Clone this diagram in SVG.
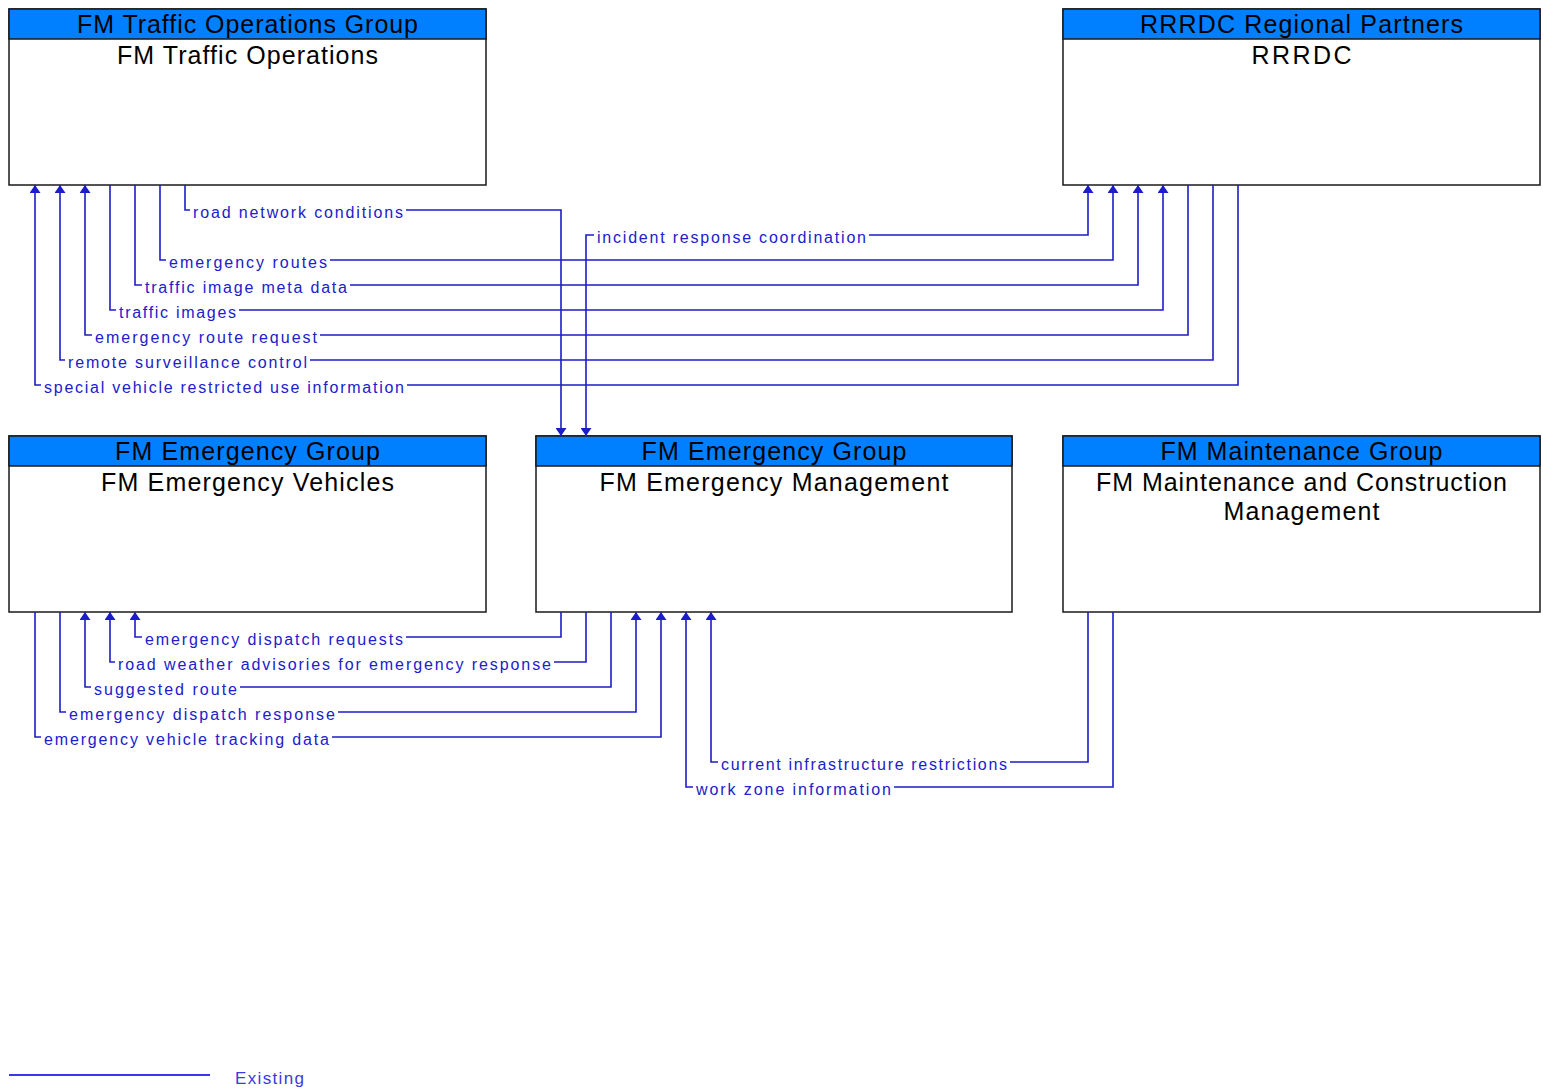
<svg xmlns="http://www.w3.org/2000/svg" width="1543" height="1089" viewBox="0 0 1543 1089">
<style>
.box{fill:#ffffff;stroke:#1a1a1a;stroke-width:1.5}
.hdr{fill:#0080ff;stroke:#1a1a1a;stroke-width:1.5}
.t{font-family:"Liberation Sans",Arial,sans-serif;font-size:25px;fill:#000000;text-anchor:middle}
.c{fill:none;stroke:#1c1cc8;stroke-width:1.6}
.l{font-family:"Liberation Sans",Arial,sans-serif;font-size:16px;fill:#2020cc}
</style>
<defs>
<marker id="a" viewBox="0 0 8 11" refX="8" refY="5.5" markerWidth="8" markerHeight="11" orient="auto-start-reverse" markerUnits="userSpaceOnUse">
<path d="M0,0 L8,5.5 L0,11 z" fill="#1c1cc8"/>
</marker>
</defs>
<rect width="1543" height="1089" fill="#ffffff"/>

<g id="node-fm-traffic-operations">
<rect class="box" x="9" y="9" width="477" height="176"/>
<rect class="hdr" x="9" y="9" width="477" height="30"/>
<text class="t" x="247.5" y="33" textLength="341" lengthAdjust="spacing">FM Traffic Operations Group</text>
<text class="t" x="247.5" y="64" textLength="261" lengthAdjust="spacing">FM Traffic Operations</text>
</g>

<g id="node-rrrdc">
<rect class="box" x="1063" y="9" width="477" height="176"/>
<rect class="hdr" x="1063" y="9" width="477" height="30"/>
<text class="t" x="1301.5" y="33" textLength="323" lengthAdjust="spacing">RRRDC Regional Partners</text>
<text class="t" x="1301.5" y="64" textLength="100" lengthAdjust="spacing">RRRDC</text>
</g>

<g id="node-fm-emergency-vehicles">
<rect class="box" x="9" y="436" width="477" height="176"/>
<rect class="hdr" x="9" y="436" width="477" height="30"/>
<text class="t" x="247.5" y="460" textLength="265" lengthAdjust="spacing">FM Emergency Group</text>
<text class="t" x="247.5" y="491" textLength="293" lengthAdjust="spacing">FM Emergency Vehicles</text>
</g>

<g id="node-fm-emergency-management">
<rect class="box" x="536" y="436" width="476" height="176"/>
<rect class="hdr" x="536" y="436" width="476" height="30"/>
<text class="t" x="774" y="460" textLength="265" lengthAdjust="spacing">FM Emergency Group</text>
<text class="t" x="774" y="491" textLength="349" lengthAdjust="spacing">FM Emergency Management</text>
</g>

<g id="node-fm-maintenance">
<rect class="box" x="1063" y="436" width="477" height="176"/>
<rect class="hdr" x="1063" y="436" width="477" height="30"/>
<text class="t" x="1301.5" y="460" textLength="282" lengthAdjust="spacing">FM Maintenance Group</text>
<text class="t" x="1301.5" y="491" textLength="411" lengthAdjust="spacing">FM Maintenance and Construction</text>
<text class="t" x="1301.5" y="520" textLength="156" lengthAdjust="spacing">Management</text>
</g>

<g id="connectors">
<path class="c" d="M185,185 V210 H190 M406,210 H561 V436" marker-end="url(#a)"/>
<path class="c" d="M1088,185 V235 H869 M594,235 H586 V436" marker-start="url(#a)" marker-end="url(#a)"/>
<path class="c" d="M160,185 V260 H166 M330,260 H1113 V185" marker-end="url(#a)"/>
<path class="c" d="M135,185 V285 H142 M350,285 H1138 V185" marker-end="url(#a)"/>
<path class="c" d="M110,185 V310 H116 M239,310 H1163 V185" marker-end="url(#a)"/>
<path class="c" d="M1188,185 V335 H320 M92,335 H85 V185" marker-end="url(#a)"/>
<path class="c" d="M1213,185 V360 H310 M65,360 H60 V185" marker-end="url(#a)"/>
<path class="c" d="M1238,185 V385 H407 M41,385 H35 V185" marker-end="url(#a)"/>
<path class="c" d="M561,612 V637 H406 M142,637 H135 V612" marker-end="url(#a)"/>
<path class="c" d="M586,612 V662 H554 M115,662 H110 V612" marker-end="url(#a)"/>
<path class="c" d="M611,612 V687 H240 M91,687 H85 V612" marker-end="url(#a)"/>
<path class="c" d="M60,612 V712 H66 M338,712 H636 V612" marker-end="url(#a)"/>
<path class="c" d="M35,612 V737 H41 M332,737 H661 V612" marker-end="url(#a)"/>
<path class="c" d="M1088,612 V762 H1010 M718,762 H711 V612" marker-end="url(#a)"/>
<path class="c" d="M1113,612 V787 H894 M693,787 H686 V612" marker-end="url(#a)"/>

<text class="l" x="193" y="218" textLength="210" lengthAdjust="spacing">road network conditions</text>
<text class="l" x="597" y="243" textLength="269" lengthAdjust="spacing">incident response coordination</text>
<text class="l" x="169" y="268" textLength="158" lengthAdjust="spacing">emergency routes</text>
<text class="l" x="145" y="293" textLength="202" lengthAdjust="spacing">traffic image meta data</text>
<text class="l" x="119" y="318" textLength="117" lengthAdjust="spacing">traffic images</text>
<text class="l" x="95" y="343" textLength="222" lengthAdjust="spacing">emergency route request</text>
<text class="l" x="68" y="368" textLength="239" lengthAdjust="spacing">remote surveillance control</text>
<text class="l" x="44" y="393" textLength="360" lengthAdjust="spacing">special vehicle restricted use information</text>
<text class="l" x="145" y="645" textLength="258" lengthAdjust="spacing">emergency dispatch requests</text>
<text class="l" x="118" y="670" textLength="433" lengthAdjust="spacing">road weather advisories for emergency response</text>
<text class="l" x="94" y="695" textLength="143" lengthAdjust="spacing">suggested route</text>
<text class="l" x="69" y="720" textLength="266" lengthAdjust="spacing">emergency dispatch response</text>
<text class="l" x="44" y="745" textLength="285" lengthAdjust="spacing">emergency vehicle tracking data</text>
<text class="l" x="721" y="770" textLength="286" lengthAdjust="spacing">current infrastructure restrictions</text>
<text class="l" x="696" y="795" textLength="195" lengthAdjust="spacing">work zone information</text>
</g>

<g id="legend">
<line x1="9" y1="1075" x2="210" y2="1075" stroke="#3a3ae0" stroke-width="2"/>
<text x="235" y="1084" font-family="Liberation Sans, Arial, sans-serif" font-size="17" fill="#3a3ae0" textLength="69" lengthAdjust="spacing">Existing</text>
</g>
</svg>
